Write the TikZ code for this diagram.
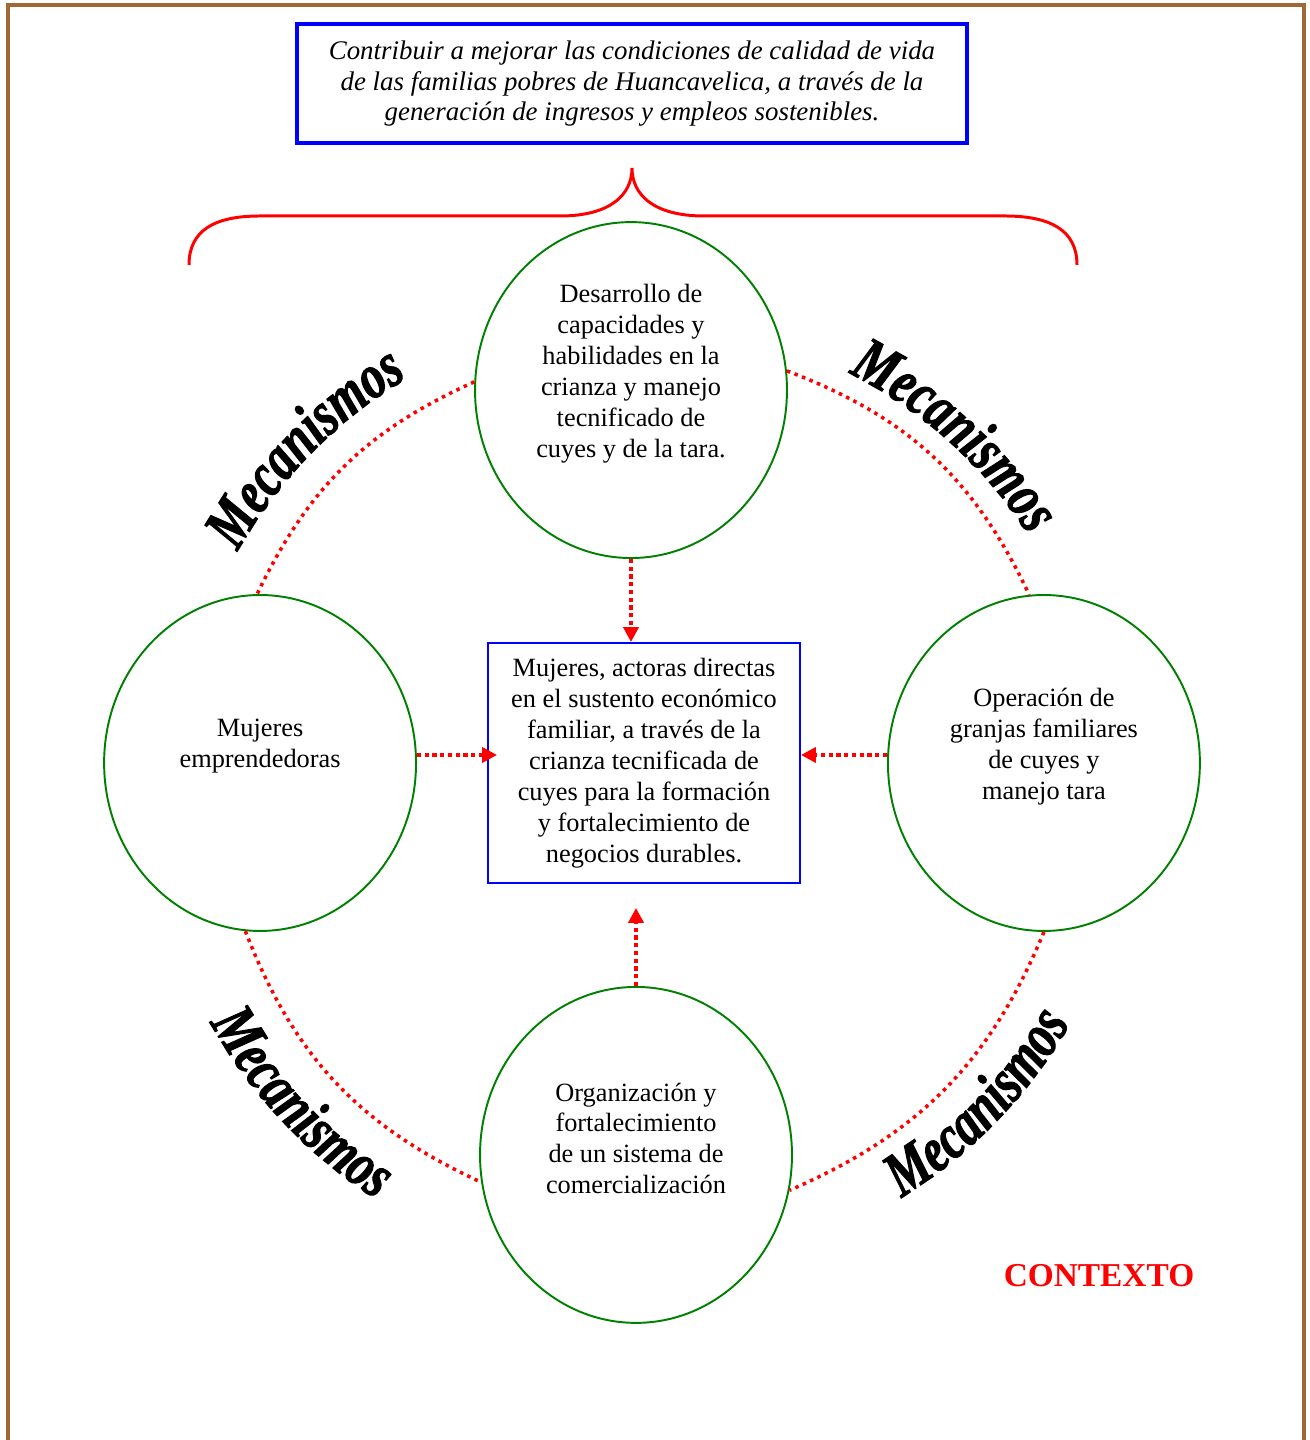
\documentclass[tikz,border=0pt]{standalone}
\usepackage{fontspec}
\setmainfont{Liberation Serif}
\newfontfamily\mecafont[FakeStretch=0.75,FakeBold=1.6]{Liberation Serif}
\newcommand{\mecastyle}{\mecafont\bfseries\itshape\fontsize{36}{36}\selectfont}
\usepackage{tikz}
\usetikzlibrary{arrows.meta,positioning,shapes.geometric,decorations.text}
\definecolor{marco}{RGB}{160,104,50}
\definecolor{verde}{RGB}{0,128,0}

\begin{document}
\begin{tikzpicture}[x=0.02cm,y=0.02cm,on grid,
    idea/.style={ellipse,draw=verde,line width=1.1pt,minimum width=6.24cm,minimum height=6.72cm,inner sep=0pt},
    ideatext/.style={align=center,font=\fontsize{15}{17.6}\selectfont},
    flow/.style={red,line width=2.4pt,dash pattern=on 2.4pt off 2pt,-{Triangle[length=0.3cm,width=0.3cm]}},
    ring/.style={red,line width=2pt,dash pattern=on 2pt off 2.6pt},
    meca/.style={decorate,decoration={text along path,text={|\mecastyle|Mecanismos},text align=center}}]
        \useasboundingbox (0,0) rectangle (1310,1440);
        \draw[marco,line width=2.3pt] (8,0) -- (8,1435) -- (1304,1435) -- (1304,0);

        \node[draw=blue,line width=1.1pt,minimum width=6.24cm,minimum height=4.8cm,inner sep=0pt,
              align=center,font=\fontsize{15}{17.6}\selectfont] (info) at (644,677)
            {Mujeres, actoras directas\\en el sustento económico\\familiar, a través de la\\crianza tecnificada de\\cuyes para la formación\\y fortalecimiento de\\negocios durables.};
        \node[idea] (capac) [above=7.46cm of info, xshift=-0.26cm] {};
        \node[idea] (mujer) [left=7.68cm of info] {};
        \node[idea] (granja) [right=8cm of info] {};
        \node[idea] (comerc) [below=7.84cm of info, xshift=-0.16cm] {};
        \node[ideatext] (capac-t) at ([yshift=0.33cm]capac.center)
            {Desarrollo de\\capacidades y\\habilidades en la\\crianza y manejo\\tecnificado de\\cuyes y de la tara.};
        \node[ideatext] (mujer-t) at ([yshift=0.33cm]mujer.center) {Mujeres\\emprendedoras};
        \node[ideatext] (granja-t) at ([yshift=0.33cm]granja.center)
            {Operación de\\granjas familiares\\de cuyes y\\manejo tara};
        \node[ideatext] (comerc-t) at ([yshift=0.33cm]comerc.center)
            {Organización y\\fortalecimiento\\de un sistema de\\comercialización};

        \node[draw=blue,line width=2.3pt,minimum width=13.4cm,minimum height=2.38cm,align=center,
              font=\itshape\fontsize{15.3}{17.6}\selectfont] (goal) [above=6.13cm of capac, xshift=0.02cm]
            {Contribuir a mejorar las condiciones de calidad de vida\\de las familias pobres de Huancavelica, a través de la\\generación de ingresos y empleos sostenibles.};
        \draw[red,line width=1.7pt] (189,1175) .. controls (189,1210) and (215,1224) .. (260,1224) -- (560,1224)
            .. controls (610,1224) and (632,1245) .. (632,1272)
            .. controls (632,1245) and (654,1224) .. (704,1224) -- (1005,1224)
            .. controls (1050,1224) and (1077,1210) .. (1077,1175);

        \draw[flow] (capac.south) -- (capac.south |- info.north);
        \draw[flow,shorten >=0.48cm] (comerc.north) -- (comerc.north |- info.south);
        \draw[flow] ([yshift=0.16cm]mujer.east) -- ([yshift=0.16cm,xshift=0.2cm]info.west);
        \draw[flow] ([yshift=0.16cm]granja.west) -- ([yshift=0.16cm]info.east);

        \draw[ring] (capac.177) to[bend right=20] (mujer.91);
        \draw[ring] (capac.7) to[bend left=22] (granja.95);
        \draw[ring] (mujer.265) to[bend right=22] (comerc.190);
        \draw[ring] (granja.270) to[bend left=22] (comerc.-13);

        \coordinate (mid) at (645,660);
        \path[meca] ([shift={(154.5:467)}]mid) arc (154.5:116.8:467);
        \path[meca] ([shift={(67:455)}]mid) arc (67:29:455);
        \path[meca] ([shift={(205:498)}]mid) arc (205:241.5:498);
        \path[meca] ([shift={(-62.6:490)}]mid) arc (-62.6:-25.6:490);

        \node[text=red,font=\bfseries\fontsize{19}{19}\selectfont] (ctx) at (1099,164) {CONTEXTO};
\end{tikzpicture}
\end{document}
